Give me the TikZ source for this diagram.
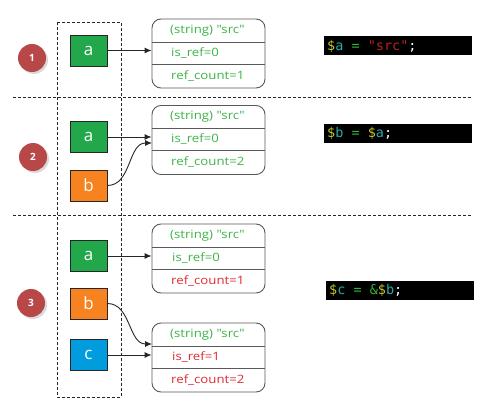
\documentclass[tikz,border=0pt]{standalone}
\usepackage{fontspec}
\setmainfont{Open Sans}
\newfontfamily\fieldfont[FakeStretch=1.15]{Open Sans}
\newfontfamily\codefont{DejaVu Sans Mono}
\newcommand{\csp}{\hphantom{x}}
\usetikzlibrary{arrows.meta}
\definecolor{boxgreen}{RGB}{34,168,74}
\definecolor{boxorange}{RGB}{246,130,32}
\definecolor{boxblue}{RGB}{0,156,222}
\definecolor{txtgreen}{RGB}{60,180,70}
\definecolor{txtred}{RGB}{226,40,50}
\definecolor{badge}{RGB}{184,72,72}
\definecolor{cdollar}{RGB}{200,200,40}
\definecolor{cvar}{RGB}{40,170,170}
\definecolor{cop}{RGB}{50,180,50}
\definecolor{cstr}{RGB}{190,30,30}
\tikzset{
  var/.style={draw=black!85, line width=0.8pt, minimum width=37pt, minimum height=31pt,
    inner sep=0pt, text=white, font=\fontsize{17}{17}\selectfont},
  rec/.style={draw=black!65, line width=0.9pt, rounded corners=9pt, minimum width=113pt,
    minimum height=69pt, inner sep=0pt},
  fld/.style={anchor=west, inner sep=0pt, font=\fieldfont\fontsize{11.5}{12}\selectfont},
  sep/.style={draw=black!65, line width=0.9pt},
  badgest/.style={circle, fill=badge, minimum size=28pt, inner sep=0pt, text=white,
    font=\bfseries\fontsize{10}{10}\selectfont},
  shadowst/.style={circle, fill=black!15, minimum size=28pt, inner sep=0pt},
  code/.style={fill=black, minimum width=148pt, minimum height=19pt, anchor=west,
    inner sep=0pt, text width=142pt, align=left, font=\codefont\fontsize{13.5}{13.5}\selectfont},
  ptr/.style={-{Latex[length=7pt,width=6pt]}, line width=0.9pt, draw=black!85},
  sepline/.style={dashed, dash pattern=on 3pt off 2pt, line width=0.9pt, draw=black!85}
}
\begin{document}
\begin{tikzpicture}[x=1pt,y=-1pt]
\useasboundingbox (0,0) rectangle (498,412);
% dashed separators
\coordinate (h1l) at (13,97); \coordinate (h1r) at (472,97);
\coordinate (h2l) at (13,215); \coordinate (h2r) at (472,215);
\draw[sepline] (h1l) -- (h1r);
\draw[sepline] (h2l) -- (h2r);
\draw[sepline] (57,22) rectangle (121,397);

% badges
\node[shadowst] (s1) at (34,60) {};
\node[badgest] (n1) at (32,58) {1};
\node[shadowst] (s2) at (35,159) {};
\node[badgest] (n2) at (33,157) {2};
\node[shadowst] (s3) at (33,305) {};
\node[badgest] (n3) at (31,303) {3};

% row 1
\node[var, fill=boxgreen] (a1) at (88.5,50.5) {a};
\node[rec] (r1) at (208.5,53.5) {};
\draw[sep] (152,42) -- (265,42) (152,64) -- (265,64);
\node[fld, text=txtgreen] (r1t) at (170,30.5) {(string) "src"};
\node[fld, text=txtgreen] (r1a) at (171,53) {is\_ref=0};
\node[fld, text=txtgreen] (r1b) at (171,76) {ref\_count=1};
\draw[ptr] (a1.east) -- (a1.east -| r1.west);
\node[code] (c1) at (324,46) {\textcolor{cdollar}{\$}\textcolor{cvar}{a}\csp\textcolor{cop}{=}\csp\textcolor{cstr}{"src"}\textcolor{white}{;}};

% row 2
\node[var, fill=boxgreen] (a2) at (88.5,137) {a};
\node[var, fill=boxorange] (b2) at (88.5,185.5) {b};
\node[rec] (r2) at (208.5,140) {};
\draw[sep] (152,128) -- (265,128) (152,150) -- (265,150);
\node[fld, text=txtgreen] (r2t) at (170,117) {(string) "src"};
\node[fld, text=txtgreen] (r2a) at (171,139) {is\_ref=0};
\node[fld, text=txtgreen] (r2b) at (171,162) {ref\_count=2};
\draw[ptr] (a2.east) -- (a2.east -| r2.west);
\coordinate (t2) at (152,143);
\draw[ptr] (b2.east) to[out=0,in=180] (t2);
\node[code] (c2) at (324,133.5) {\textcolor{cdollar}{\$}\textcolor{cvar}{b}\csp\textcolor{cop}{=}\csp\textcolor{cdollar}{\$}\textcolor{cvar}{a}\textcolor{white}{;}};

% row 3
\node[var, fill=boxgreen] (a3) at (88.5,256) {a};
\node[var, fill=boxorange] (b3) at (88.5,303.5) {b};
\node[var, fill=boxblue] (c3) at (88.5,355) {c};
\node[rec] (r3) at (208.5,258.5) {};
\draw[sep] (152,247) -- (265,247) (152,269) -- (265,269);
\node[fld, text=txtgreen] (r3t) at (170,235.5) {(string) "src"};
\node[fld, text=txtgreen] (r3a) at (172,258) {is\_ref=0};
\node[fld, text=txtred] (r3b) at (171,281) {ref\_count=1};
\node[rec] (r4) at (208.5,357.5) {};
\draw[sep] (152,346) -- (265,346) (152,368) -- (265,368);
\node[fld, text=txtgreen] (r4t) at (170,334.5) {(string) "src"};
\node[fld, text=txtred] (r4a) at (172,357) {is\_ref=1};
\node[fld, text=txtred] (r4b) at (171,380) {ref\_count=2};
\draw[ptr] (a3.east) -- (a3.east -| r3.west);
\coordinate (t3) at (152,344);
\draw[ptr] (b3.east) to[out=0,in=180] (t3);
\draw[ptr] (c3.east) -- (c3.east -| r4.west);
\node[code] (c3c) at (326,290.5) {\textcolor{cdollar}{\$}\textcolor{cvar}{c}\csp\textcolor{cop}{=}\csp\textcolor{cop}{\&}\textcolor{cdollar}{\$}\textcolor{cvar}{b}\textcolor{white}{;}};
\end{tikzpicture}
\end{document}
